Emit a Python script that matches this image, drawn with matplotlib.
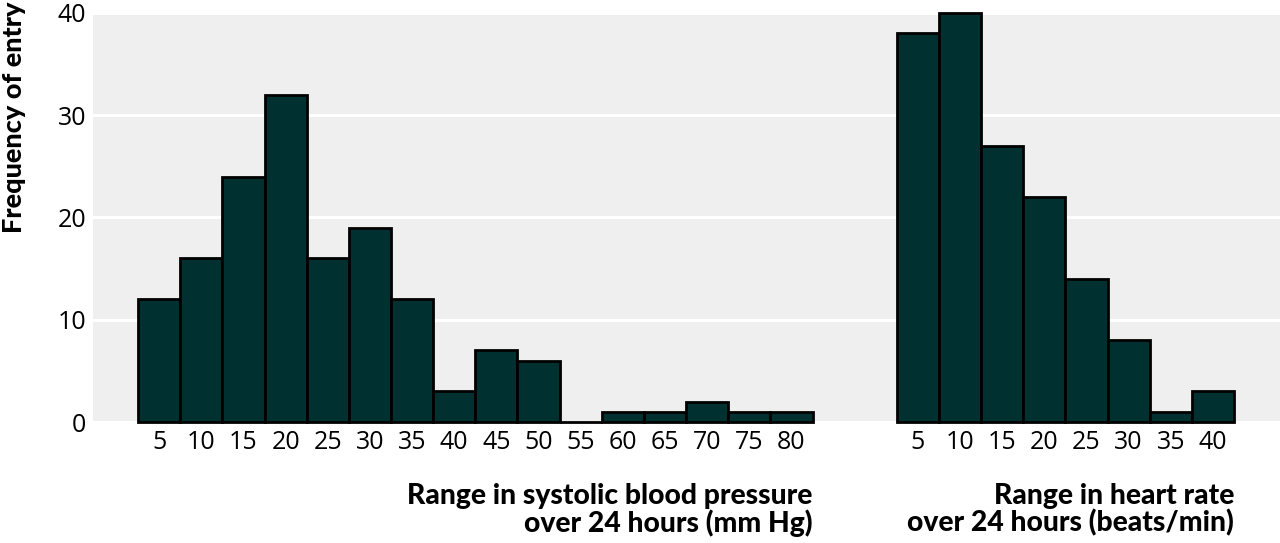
import matplotlib.pyplot as plt
import matplotlib.transforms as mtransforms

# bins (upper bound of each 5-unit range) and counts
bp_labels = ["5", "10", "15", "20", "25", "30", "35", "40",
             "45", "50", "55", "60", "65", "70", "75", "80"]
bp_counts = [12, 16, 24, 32, 16, 19, 12, 3, 7, 6, 0, 1, 1, 2, 1, 1]

hr_labels = ["5", "10", "15", "20", "25", "30", "35", "40"]
hr_counts = [38, 40, 27, 22, 14, 8, 1, 3]

y_ticks = [0, 10, 20, 30, 40]

bar_color = "#00302f"
bg_color = "#efefef"

plt.rcParams["font.family"] = ["Open Sans", "DejaVu Sans"]


def draw_chart():
    fig = plt.figure(figsize=(12.8, 5.43), dpi=100)
    ax = fig.add_axes([93 / 1280, 1 - 422 / 543, 1 - 93 / 1280, 409 / 543])
    ax.set_facecolor(bg_color)

    gap = 2
    bp_x = list(range(len(bp_counts)))
    hr_x = [len(bp_counts) + gap + i for i in range(len(hr_counts))]

    ax.bar(bp_x, bp_counts, width=1.0, color=bar_color,
           edgecolor="black", linewidth=2, zorder=3, clip_on=False)
    ax.bar(hr_x, hr_counts, width=1.0, color=bar_color,
           edgecolor="black", linewidth=2, zorder=3, clip_on=False)

    ax.set_xlim(-1.57, hr_x[-1] + 0.5 + 1.09)
    ax.set_ylim(0, 40)

    ax.set_yticks(y_ticks)
    ax.set_xticks(bp_x + hr_x)
    ax.set_xticklabels(bp_labels + hr_labels)

    ax.tick_params(axis="both", length=0, labelsize=18, labelcolor="black")
    ax.tick_params(axis="y", pad=5)
    ax.tick_params(axis="x", pad=6)

    ax.grid(axis="y", color="white", linewidth=2.2, zorder=1)
    ax.set_axisbelow(True)
    for s in ax.spines.values():
        s.set_visible(False)

    trans = mtransforms.blended_transform_factory(ax.transData, ax.transAxes)
    label_font = dict(family=["Lato", "DejaVu Sans"],
                      fontweight="black", fontsize=20.3, ha="right",
                      va="top", linespacing=1.0)
    ax.text(bp_x[-1] + 0.5, -0.15,
            "Range in systolic blood pressure\nover 24 hours (mm Hg)",
            transform=trans, **label_font)
    ax.text(hr_x[-1] + 0.5, -0.15,
            "Range in heart rate\nover 24 hours (beats/min)",
            transform=trans, **label_font)

    fig.text(14 / 1280, 1 - 2 / 543, "Frequency of entry", rotation=90,
             ha="center", va="top", fontsize=19.5, fontweight="black",
             family=["Lato", "DejaVu Sans"])

    fig.savefig("out.png", dpi=100)


if __name__ == "__main__":
    draw_chart()
